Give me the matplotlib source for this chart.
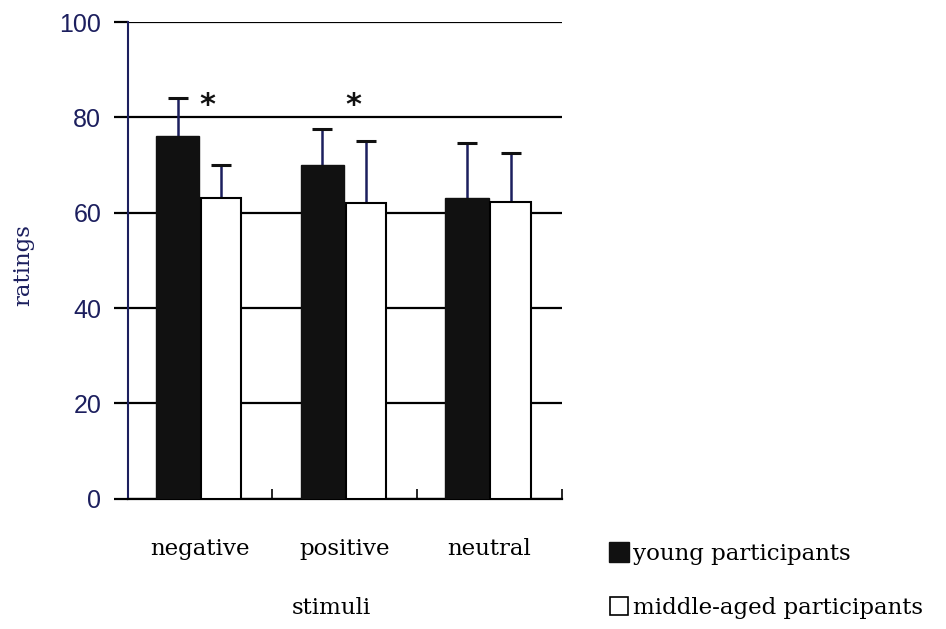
import numpy as np
import matplotlib
matplotlib.use("Agg")
import matplotlib.pyplot as plt
from matplotlib.lines import Line2D

# dati
categorie = ["negative", "positive", "neutral"]
giovani = [76, 70, 63]
giovani_err = [8, 7.6, 11.6]
mezza_eta = [63, 62, 62.3]
mezza_eta_err = [7, 13, 10.2]
asterischi_x = [0.05, 1.06]
asterischi_y = [82.5, 82.5]
y_ticks = [0, 20, 40, 60, 80, 100]

navy = "#1c1f5e"
serif = "DejaVu Serif"

fig = plt.figure(figsize=(9.46, 6.29), dpi=100)
ax = fig.add_axes([0.135, 0.207, 0.459, 0.758])

x = np.arange(len(categorie))
w = 0.3

ax.bar(x - 0.155, giovani, w, color="#111111", edgecolor="#111111", linewidth=1, zorder=3)
ax.bar(x + 0.145, mezza_eta, 0.28, color="white", edgecolor="black", linewidth=1.5, zorder=3)

# barre di errore solo verso l'alto
for pos, val, err in [(x - 0.155, giovani, giovani_err), (x + 0.145, mezza_eta, mezza_eta_err)]:
    eb = ax.errorbar(pos, val, yerr=[np.zeros(3), err], fmt="none",
                     ecolor=navy, elinewidth=1.8, capsize=7, capthick=2.2, zorder=2)
    eb.lines[1][0].set_visible(False)  # tolgo il cappuccio in basso
    eb.lines[1][1].set_markeredgecolor("#111111")

for ax_, ay_ in zip(asterischi_x, asterischi_y):
    ax.text(ax_, ay_, "*", fontsize=22, fontweight="bold", ha="center", va="center",
            color="#111111", family="DejaVu Sans")

ax.set_xlim(-0.5, 2.5)
ax.set_ylim(0, 100)
ax.set_yticks(y_ticks)
ax.set_yticklabels([str(v) for v in y_ticks], fontsize=18, color=navy, family="Liberation Sans")
ax.yaxis.grid(True, color="black", linewidth=1.6, zorder=0)
ax.set_axisbelow(True)
ax.tick_params(axis="y", length=10, width=1.6, color="black", pad=9)

# tacche sull'asse x tra le categorie, etichette al centro
ax.set_xticks([0.5, 1.5, 2.5])
ax.set_xticklabels([])
ax.tick_params(axis="x", which="major", direction="in", length=7, width=1.2)
ax.set_xticks(x, minor=True)
ax.set_xticklabels(categorie, minor=True, fontsize=16.5, family=serif)
ax.tick_params(axis="x", which="minor", length=0, pad=28)

ax.spines["top"].set_visible(False)
ax.spines["right"].set_visible(False)
ax.spines["left"].set_color(navy)
ax.spines["left"].set_linewidth(1.5)
ax.spines["bottom"].set_linewidth(1.6)

ax.set_ylabel("ratings", fontsize=16.5, family=serif, color=navy)
ax.yaxis.set_label_coords(-0.215, 0.49)
ax.set_xlabel("stimuli", fontsize=16.5, family=serif)
ax.xaxis.set_label_coords(0.47, -0.205)

handles = [
    Line2D([], [], marker="s", linestyle="none", markersize=15, markerfacecolor="#111111",
           markeredgecolor="#111111"),
    Line2D([], [], marker="s", linestyle="none", markersize=13, markerfacecolor="white",
           markeredgecolor="black", markeredgewidth=1.2),
]
fig.legend(handles, ["young participants", "middle-aged participants"],
           loc="upper left", bbox_to_anchor=(0.635, 0.152), frameon=False,
           prop={"family": serif, "size": 16.5}, handlelength=0.8, handletextpad=0.2,
           labelspacing=1.4, borderaxespad=0)

fig.savefig("out.png", dpi=100)
